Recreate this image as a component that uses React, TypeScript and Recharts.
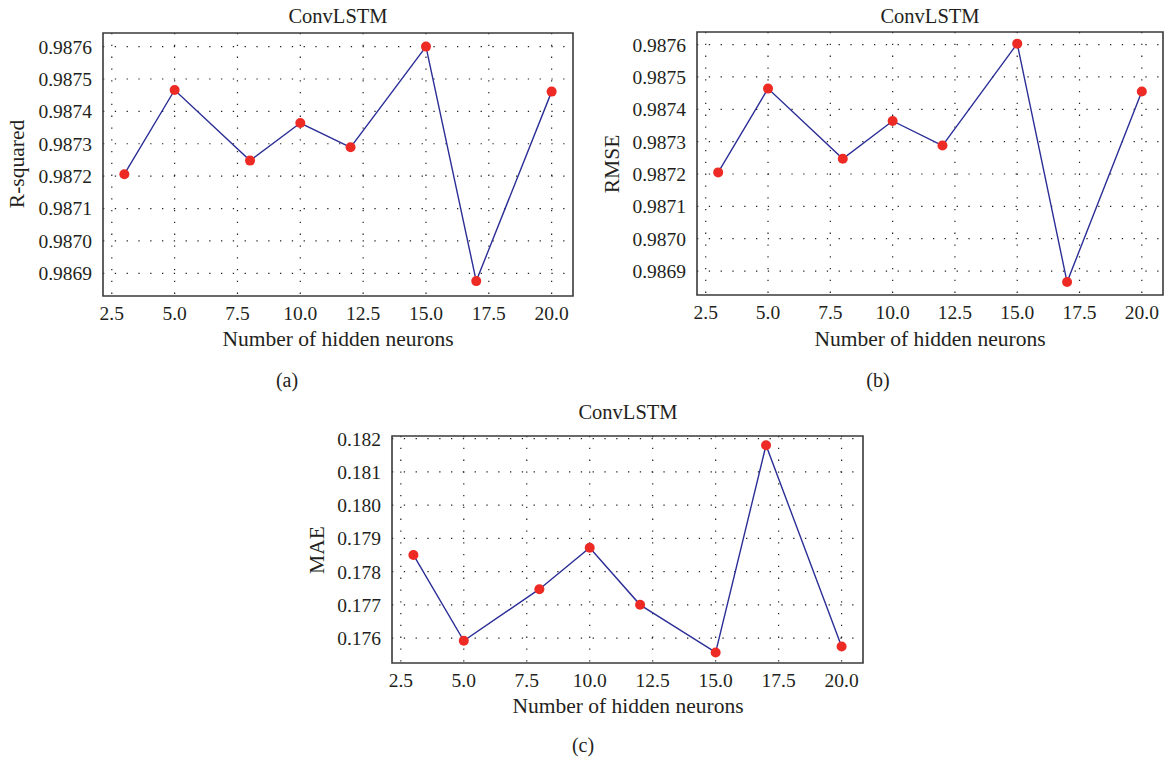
import { LineChart, Line, XAxis, YAxis, CartesianGrid, ReferenceArea } from "recharts";

const neurons = [3, 5, 8, 10, 12, 15, 17, 20];
const rSquared = [0.987206, 0.987466, 0.987248, 0.987364, 0.987289, 0.9876, 0.986876, 0.987461];
const rmse = [0.987205, 0.987464, 0.987247, 0.987364, 0.987288, 0.987603, 0.986866, 0.987455];
const mae = [0.178501, 0.17592, 0.177471, 0.178718, 0.177, 0.175568, 0.181802, 0.175748];

const xTicks = [2.5, 5, 7.5, 10, 12.5, 15, 17.5, 20];
const scoreTicks = [0.9869, 0.987, 0.9871, 0.9872, 0.9873, 0.9874, 0.9875, 0.9876];
const maeTicks = [0.176, 0.177, 0.178, 0.179, 0.18, 0.181, 0.182];

const FONT = "'Liberation Serif', 'DejaVu Serif', serif";
const TEXT = "#231f20";
const X_DOMAIN: [number, number] = [2.15, 20.85];

interface PanelProps {
  values: number[];
  yDomain: [number, number];
  yTicks: number[];
  decimals: number;
  left: number;
  top: number;
  width: number;
  height: number;
  margin: { top: number; right: number; bottom: number; left: number };
  yWidth: number;
}

function Panel({ values, yDomain, yTicks, decimals, left, top, width, height, margin, yWidth }: PanelProps) {
  const data = neurons.map((n, i) => ({ n, v: values[i] }));
  const tick = { fill: TEXT, fontSize: 19.5, fontFamily: FONT };
  return (
    <div style={{ position: "absolute", left, top }}>
      <LineChart width={width} height={height} data={data} margin={margin}>
        <CartesianGrid stroke="#222" strokeWidth={1.2} strokeDasharray="1.3 10.5" horizontalValues={yTicks} verticalValues={xTicks} />
        <XAxis
          dataKey="n"
          type="number"
          domain={X_DOMAIN}
          ticks={xTicks}
          allowDataOverflow
          tickFormatter={(v: number) => v.toFixed(1)}
          tick={tick}
          tickLine={false}
          tickSize={0}
          tickMargin={10}
          axisLine={false}
          height={30}
        />
        <YAxis
          type="number"
          domain={yDomain}
          ticks={yTicks}
          allowDataOverflow
          tickFormatter={(v: number) => v.toFixed(decimals)}
          tick={tick}
          tickLine={false}
          tickSize={0}
          tickMargin={11}
          axisLine={false}
          width={yWidth}
        />
        <ReferenceArea
          x1={X_DOMAIN[0]}
          x2={X_DOMAIN[1]}
          y1={yDomain[0]}
          y2={yDomain[1]}
          fill="none"
          stroke="#3a3a3a"
          strokeWidth={1.6}
          ifOverflow="visible"
        />
        <Line
          dataKey="v"
          stroke="#2b2e96"
          strokeWidth={1.4}
          dot={{ r: 5, fill: "#ee2a24", stroke: "none" }}
          isAnimationActive={false}
        />
      </LineChart>
    </div>
  );
}

function Txt({ x, y, children, size = 20, rotate = false }: { x: number; y: number; children: string; size?: number; rotate?: boolean }) {
  return (
    <div
      style={{
        position: "absolute",
        left: x,
        top: y,
        transform: `translate(-50%, -50%)${rotate ? " rotate(-90deg)" : ""}`,
        fontFamily: FONT,
        fontSize: size,
        color: TEXT,
        whiteSpace: "nowrap",
        lineHeight: 1,
      }}
    >
      {children}
    </div>
  );
}

export default function App() {
  return (
    <div style={{ position: "absolute", left: 0, top: 0, width: 1167, height: 763, background: "#fff" }}>
      <Panel
        values={rSquared}
        yDomain={[0.98683, 0.987642]}
        yTicks={scoreTicks}
        decimals={4}
        left={0}
        top={0}
        width={590}
        height={360}
        margin={{ top: 33, right: 17, bottom: 34, left: 0 }}
        yWidth={103}
      />
      <Panel
        values={rmse}
        yDomain={[0.986826, 0.987639]}
        yTicks={scoreTicks}
        decimals={4}
        left={594}
        top={0}
        width={573}
        height={360}
        margin={{ top: 32, right: 4, bottom: 35, left: 0 }}
        yWidth={103}
      />
      <Panel
        values={mae}
        yDomain={[0.17525, 0.18208]}
        yTicks={maeTicks}
        decimals={3}
        left={290}
        top={400}
        width={590}
        height={340}
        margin={{ top: 36, right: 17, bottom: 47, left: 0 }}
        yWidth={102}
      />

      <Txt x={338} y={16} size={20.5}>ConvLSTM</Txt>
      <Txt x={18} y={164} size={21.5} rotate>R-squared</Txt>
      <Txt x={338} y={340} size={21.5}>Number of hidden neurons</Txt>
      <Txt x={287} y={380}>(a)</Txt>

      <Txt x={930} y={16} size={20.5}>ConvLSTM</Txt>
      <Txt x={613} y={164} size={21.5} rotate>RMSE</Txt>
      <Txt x={930} y={340} size={21.5}>Number of hidden neurons</Txt>
      <Txt x={878} y={380}>(b)</Txt>

      <Txt x={628} y={412} size={20.5}>ConvLSTM</Txt>
      <Txt x={318} y={550} size={21.5} rotate>MAE</Txt>
      <Txt x={628} y={707} size={21.5}>Number of hidden neurons</Txt>
      <Txt x={583} y={745}>(c)</Txt>
    </div>
  );
}
